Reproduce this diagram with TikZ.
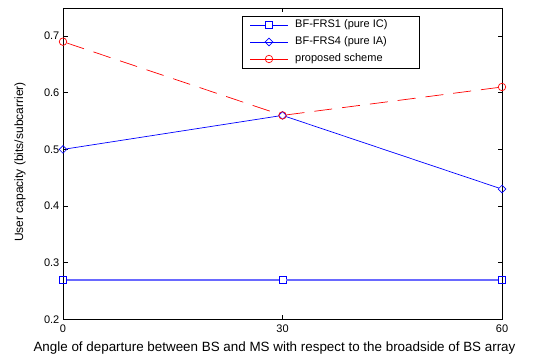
\documentclass[tikz,border=0pt]{standalone}
\usepackage{fontspec}
\setmainfont{Liberation Sans}
\usetikzlibrary{shapes.geometric}
\definecolor{mblue}{RGB}{0,0,255}
\definecolor{lblue}{RGB}{105,105,255}
\definecolor{mred}{RGB}{255,0,0}
\begin{document}
\begin{tikzpicture}[x=1pt,y=1pt,
  axisline/.style={line width=0.9pt,draw=black},
  tickmark/.style={line width=0.6pt,draw=black},
  ticklab/.style={font=\fontsize{11}{13}\selectfont,inner sep=0pt},
  bluecurve/.style={draw=mblue,line width=0.7pt},
  flatcurve/.style={draw=lblue,line width=1.5pt},
  redcurve/.style={draw=mred,line width=0.7pt,dash pattern=on 18pt off 10pt},
  sqmark/.style={draw=mblue,rectangle,minimum size=7pt,inner sep=0pt,line width=0.7pt},
  dmmark/.style={draw=mblue,diamond,minimum size=8pt,inner sep=0pt,line width=0.7pt},
  cmark/.style={draw=mred,circle,minimum size=7.5pt,inner sep=0pt,line width=0.7pt},
  legtext/.style={font=\fontsize{11}{13}\selectfont,anchor=west,inner sep=0pt}
]
\useasboundingbox[fill=white] (0,0) rectangle (538,358);
% axes box
\draw[axisline] (63,38.5) rectangle (502,350);
% y ticks
\foreach \v/\Y in {0.2/38.5,0.3/95.2,0.4/151.9,0.5/208.6,0.6/265.3,0.7/322.0}{
  \draw[tickmark] (63,\Y) -- (67.5,\Y);
  \draw[tickmark] (502,\Y) -- (497.5,\Y);
  \node[ticklab,anchor=east] at (59.5,\Y) {\v};
}
% x ticks
\foreach \v/\X in {0/63,30/282.5,60/502}{
  \draw[tickmark] (\X,38.5) -- (\X,43);
  \draw[tickmark] (\X,350) -- (\X,345.5);
  \node[ticklab,anchor=north] at (\X,33) {\v};
}
% labels
\node[font=\fontsize{13.4}{15}\selectfont] (xl) at (274.5,10) {Angle of departure between BS and MS with respect to the broadside of BS array};
\node[font=\fontsize{12}{14}\selectfont,rotate=90] (yl) at (20,196) {User capacity (bits/subcarrier)};
% BF-FRS1
\node[sqmark] (a1) at (63,78) {};
\node[sqmark] (a2) at (282.5,78) {};
\node[sqmark] (a3) at (502,78) {};
\draw[flatcurve] (a1.east) -- (a2.west);
\draw[flatcurve] (a2.east) -- (a3.west);
% BF-FRS4
\node[dmmark] (b1) at (63,208.6) {};
\node[dmmark] (b2) at (282.5,242.6) {};
\node[dmmark] (b3) at (502,168.9) {};
\draw[bluecurve] (b1) -- (b2) -- (b3);
% proposed
\node[cmark] (c1) at (63,316.3) {};
\node[cmark] (c2) at (282.5,242.6) {};
\node[cmark] (c3) at (502,271.0) {};
\draw[redcurve] (c1) -- (c2);
\draw[redcurve] (c2) -- (c3);
% legend
\node[draw=black,line width=0.8pt,fill=white,minimum width=177pt,minimum height=52pt,inner sep=0pt] (leg) at (330.5,316) {};
\coordinate (l1a) at (250,333);
\coordinate (l1b) at (288,333);
\coordinate (l2a) at (250,316);
\coordinate (l2b) at (288,316);
\coordinate (l3a) at (250,299);
\coordinate (l3b) at (288,299);
\node[sqmark] (m1) at (269,333) {};
\draw[bluecurve] (l1a) -- (m1.west);
\draw[bluecurve] (m1.east) -- (l1b);
\node[legtext] (t1) at (295,333) {BF-FRS1 (pure IC)};
\draw[bluecurve] (l2a) -- (l2b);
\node[dmmark] (m2) at (269,316) {};
\node[legtext] (t2) at (295,316) {BF-FRS4 (pure IA)};
\draw[draw=mred,line width=0.7pt] (l3a) -- (l3b);
\node[cmark] (m3) at (269,299) {};
\node[legtext] (t3) at (295,299) {proposed scheme};
\end{tikzpicture}
\end{document}
